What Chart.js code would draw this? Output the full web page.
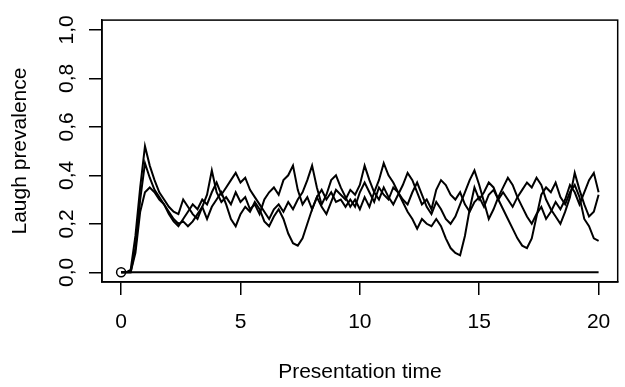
<!DOCTYPE html>
<html>
<head>
<meta charset="utf-8">
<script src="https://cdn.jsdelivr.net/npm/chart.js@4/dist/chart.umd.min.js"></script>
<style>
  html, body { margin: 0; padding: 0; background: #fff; }
  canvas { display: block; }
</style>
</head>
<body>
<canvas id="c" width="625" height="387"></canvas>
<script>
// sampling grid (presentation time)
const TIME = [
  0, 0.2, 0.4, 0.6, 0.8, 1, 1.2, 1.4, 1.6, 1.8,
  2, 2.2, 2.4, 2.6, 2.8, 3, 3.2, 3.4, 3.6, 3.8,
  4, 4.2, 4.4, 4.6, 4.8, 5, 5.2, 5.4, 5.6, 5.8,
  6, 6.2, 6.4, 6.6, 6.8, 7, 7.2, 7.4, 7.6, 7.8,
  8, 8.2, 8.4, 8.6, 8.8, 9, 9.2, 9.4, 9.6, 9.8,
  10, 10.2, 10.4, 10.6, 10.8, 11, 11.2, 11.4, 11.6, 11.8,
  12, 12.2, 12.4, 12.6, 12.8, 13, 13.2, 13.4, 13.6, 13.8,
  14, 14.2, 14.4, 14.6, 14.8, 15, 15.2, 15.4, 15.6, 15.8,
  16, 16.2, 16.4, 16.6, 16.8, 17, 17.2, 17.4, 17.6, 17.8,
  18, 18.2, 18.4, 18.6, 18.8, 19, 19.2, 19.4, 19.6, 19.8,
  20
];

// three runs of laugh prevalence
const RUN_A = [
  0, 0, 0.01, 0.15, 0.35, 0.52, 0.44, 0.38, 0.33, 0.30,
  0.27, 0.25, 0.24, 0.30, 0.27, 0.24, 0.22, 0.27, 0.32, 0.42,
  0.33, 0.29, 0.31, 0.28, 0.33, 0.29, 0.31, 0.26, 0.28, 0.24,
  0.30, 0.33, 0.35, 0.32, 0.38, 0.40, 0.44, 0.34, 0.28, 0.31,
  0.26, 0.31, 0.27, 0.24, 0.29, 0.34, 0.32, 0.30, 0.34, 0.32,
  0.36, 0.44, 0.38, 0.33, 0.30, 0.35, 0.31, 0.28, 0.32, 0.36,
  0.41, 0.38, 0.33, 0.28, 0.30, 0.26, 0.34, 0.38, 0.36, 0.32,
  0.30, 0.33, 0.28, 0.25, 0.29, 0.31, 0.27, 0.32, 0.34, 0.30,
  0.33, 0.30, 0.27, 0.31, 0.34, 0.37, 0.35, 0.39, 0.36, 0.30,
  0.26, 0.23, 0.20, 0.25, 0.31, 0.41, 0.34, 0.28, 0.23, 0.25,
  0.32
];
const RUN_B = [
  0, 0, 0, 0.10, 0.30, 0.45, 0.39, 0.34, 0.31, 0.28,
  0.24, 0.21, 0.19, 0.22, 0.25, 0.28, 0.26, 0.30, 0.28, 0.33,
  0.37, 0.32, 0.35, 0.38, 0.41, 0.37, 0.39, 0.34, 0.31, 0.28,
  0.25, 0.22, 0.26, 0.28, 0.25, 0.29, 0.26, 0.30, 0.33, 0.38,
  0.44, 0.35, 0.28, 0.32, 0.38, 0.40, 0.35, 0.31, 0.27, 0.30,
  0.26, 0.31, 0.27, 0.33, 0.38, 0.45, 0.40, 0.37, 0.33, 0.30,
  0.28, 0.33, 0.37, 0.32, 0.27, 0.24, 0.29, 0.26, 0.22, 0.20,
  0.23, 0.28, 0.33, 0.38, 0.42, 0.36, 0.29, 0.22, 0.26, 0.31,
  0.35, 0.39, 0.36, 0.31, 0.27, 0.23, 0.20, 0.24, 0.27, 0.22,
  0.25, 0.29, 0.26, 0.30, 0.36, 0.33, 0.28, 0.33, 0.38, 0.41,
  0.33
];
const RUN_C = [
  0, 0, 0, 0.08, 0.25, 0.33, 0.35, 0.33, 0.30, 0.28,
  0.25, 0.22, 0.20, 0.21, 0.19, 0.21, 0.24, 0.27, 0.22, 0.27,
  0.30, 0.33, 0.28, 0.22, 0.19, 0.24, 0.27, 0.25, 0.29, 0.26,
  0.21, 0.19, 0.23, 0.26, 0.22, 0.16, 0.12, 0.11, 0.14, 0.20,
  0.26, 0.31, 0.34, 0.30, 0.33, 0.29, 0.30, 0.27, 0.30, 0.27,
  0.33, 0.37, 0.33, 0.29, 0.35, 0.32, 0.30, 0.35, 0.33, 0.29,
  0.25, 0.22, 0.18, 0.22, 0.20, 0.19, 0.22, 0.19, 0.14, 0.10,
  0.08, 0.07, 0.15, 0.26, 0.35, 0.30, 0.33, 0.37, 0.35, 0.30,
  0.26, 0.22, 0.18, 0.14, 0.11, 0.10, 0.14, 0.23, 0.32, 0.35,
  0.33, 0.37, 0.31, 0.28, 0.33, 0.36, 0.31, 0.22, 0.19, 0.14,
  0.13
];

// baseline at zero and the starting point
const BASE_X = [0, 20];
const BASE_Y = [0, 0];
const ORIGIN_X = [0];
const ORIGIN_Y = [0];

const X_TICKS = [0, 5, 10, 15, 20];
const Y_TICKS = [0, 0.2, 0.4, 0.6, 0.8, 1.0];

const FONT = '"Liberation Sans", Arial, Helvetica, sans-serif';
const zip = (xs, ys) => xs.map((x, i) => ({ x, y: ys[i] }));

const runLine = (ys) => ({
    data: zip(TIME, ys),
    borderColor: '#000',
    borderWidth: 2,
    pointRadius: 0,
    tension: 0,
    fill: false,
});

// R-style closed box round the plot region
const boxPlugin = {
    id: 'box',
    afterDraw(chart) {
        const { ctx, chartArea: a } = chart;
        ctx.save();
        ctx.strokeStyle = '#000';
        ctx.lineWidth = 1.5;
        ctx.strokeRect(a.left, a.top, a.right - a.left, a.bottom - a.top);
        ctx.restore();
    },
};

new Chart(document.getElementById('c'), {
    type: 'line',
    data: {
        datasets: [
            runLine(RUN_A),
            runLine(RUN_B),
            runLine(RUN_C),
            {
                data: zip(BASE_X, BASE_Y),
                borderColor: '#000', borderWidth: 2, pointRadius: 0, tension: 0,
            },
            {
                data: zip(ORIGIN_X, ORIGIN_Y),
                showLine: false,
                pointRadius: 4.5,
                pointBorderWidth: 1.5,
                pointBorderColor: '#000',
                pointBackgroundColor: 'rgba(0,0,0,0)',
            },
        ],
    },
    options: {
        responsive: false,
        animation: false,
        devicePixelRatio: 1,
        layout: { padding: { top: 11, right: 1, left: 0, bottom: 0 } },
        plugins: { legend: { display: false }, tooltip: { enabled: false } },
        scales: {
            x: {
                type: 'linear',
                min: -0.8,
                max: 20.8,
                afterBuildTicks: (axis) => { axis.ticks = X_TICKS.map((v) => ({ value: v })); },
                afterFit: (axis) => { axis.height = 105; },
                grid: { drawOnChartArea: false, drawTicks: true, tickLength: 13, color: '#000', lineWidth: 1.5 },
                border: { display: true, color: '#000', width: 1.5 },
                ticks: {
                    color: '#000', font: { family: FONT, size: 21 }, padding: 14.5,
                    maxRotation: 0, autoSkip: false,
                    callback: (v) => String(v),
                },
                title: {
                    display: true, text: 'Presentation time', color: '#000',
                    font: { family: FONT, size: 21 }, padding: { top: 0, bottom: 2 },
                },
            },
            y: {
                min: -0.04,
                max: 1.04,
                afterBuildTicks: (axis) => { axis.ticks = Y_TICKS.map((v) => ({ value: v })); },
                afterFit: (axis) => { axis.width = 102; },
                grid: { drawOnChartArea: false, drawTicks: true, tickLength: 13, color: '#000', lineWidth: 1.5 },
                border: { display: true, color: '#000', width: 1.5 },
                ticks: {
                    color: '#000', font: { family: FONT, size: 21 }, padding: 7.5,
                    minRotation: 90, maxRotation: 90, crossAlign: 'center', autoSkip: false,
                    callback: (v) => v.toFixed(1).replace('.', ','),
                },
                title: {
                    display: true, text: 'Laugh prevalence', color: '#000',
                    font: { family: FONT, size: 21 }, padding: { top: 7.5, bottom: 0 },
                },
            },
        },
    },
    plugins: [boxPlugin],
});
</script>
</body>
</html>
